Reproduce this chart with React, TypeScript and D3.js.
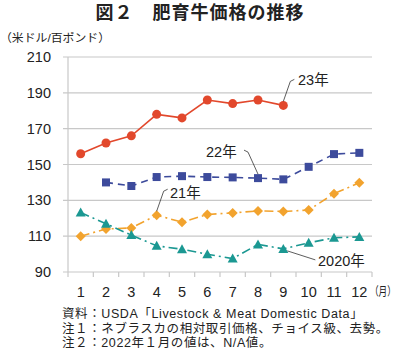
import React from 'react';
import * as d3 from 'd3';

const months = ['1', '2', '3', '4', '5', '6', '7', '8', '9', '10', '11', '12'];
const yTicks = [90, 110, 130, 150, 170, 190, 210];

const y2023 = [156, 162, 166, 178, 176, 186, 184, 186, 183];
const y2022 = [null, 140, 138, 143, 143.5, 143, 142.8, 142.4, 141.7, 148.7, 155.8, 156.5];
const y2021 = [110, 114, 114.6, 121.7, 117.8, 122.1, 123, 124.1, 123.8, 124.6, 133.7, 139.8];
const y2020 = [123.2, 116.9, 110.6, 104.6, 102.7, 99.9, 97.5, 105.4, 102.9, 106.3, 109.1, 109.6];

const notes = [
  '資料：USDA「Livestock & Meat Domestic Data」',
  '注１：ネブラスカの相対取引価格、チョイス級、去勢。',
  '注２：2022年１月の値は、N/A値。',
];

const FONT = '"Liberation Sans", "Noto Sans CJK JP", sans-serif';

export default function App() {
  const left = 68, right = 372, top = 57, bottom = 272;
  const x = d3.scaleBand().domain(months).range([left, right]);
  const y = d3.scaleLinear().domain([90, 210]).range([bottom, top]);
  const cx = (i: number) => (x(months[i]) as number) + x.bandwidth() / 2;

  const line = d3.line<number | null>()
    .defined((d) => d != null)
    .x((_, i) => cx(i))
    .y((d) => y(d as number));

  const series = [
    { data: y2023, color: '#e2482c', dash: '', shape: 'circle' },
    { data: y2022, color: '#3d4b9c', dash: '7,5', shape: 'square' },
    { data: y2021, color: '#f2a32e', dash: '9,4,2,4', shape: 'diamond' },
    { data: y2020, color: '#1b9892', dash: '9,4,2,4', shape: 'triangle' },
  ];

  const marker = (shape: string, px: number, py: number, color: string, key: number) => {
    if (shape === 'circle') return <circle key={key} cx={px} cy={py} r={4.5} fill={color} />;
    if (shape === 'square') return <rect key={key} x={px - 4} y={py - 4} width={8} height={8} fill={color} />;
    if (shape === 'diamond')
      return <path key={key} d={`M${px},${py - 5}L${px + 5},${py}L${px},${py + 5}L${px - 5},${py}Z`} fill={color} />;
    return <path key={key} d={`M${px},${py - 5}L${px + 5},${py + 4}L${px - 5},${py + 4}Z`} fill={color} />;
  };

  return (
    <svg width={400} height={361} style={{ position: 'absolute', left: 0, top: 0, background: '#fff' }} fontFamily={FONT}>
      <text x={200} y={19} textAnchor="middle" fontSize={18} fontWeight="bold" letterSpacing={1} fill="#222">図２　肥育牛価格の推移</text>
      <text x={0} y={42} fontSize={11.5} textLength={110} lengthAdjust="spacingAndGlyphs" fill="#222">（米ドル/百ポンド）</text>

      {yTicks.map((t) => (
        <g key={t}>
          <line x1={left - 5} x2={right} y1={y(t)} y2={y(t)} stroke="#c8c8c8" strokeWidth={1.2} />
          <text x={51} y={y(t) + 5} textAnchor="end" fontSize={14.5} fill="#222">{t}</text>
        </g>
      ))}
      <line x1={left} x2={left} y1={top} y2={bottom} stroke="#c8c8c8" strokeWidth={1.2} />
      {months.map((m) => (
        <line key={'t' + m} x1={x(m)} x2={x(m)} y1={bottom} y2={bottom + 5} stroke="#c8c8c8" strokeWidth={1.2} />
      ))}
      <line x1={right} x2={right} y1={bottom} y2={bottom + 5} stroke="#c8c8c8" strokeWidth={1.2} />
      {months.map((m, i) => (
        <text key={'l' + m} x={cx(i)} y={297} textAnchor="middle" fontSize={14.5} fill="#222">{m}</text>
      ))}
      <g transform="translate(370,296) scale(0.72,1)">
        <text x={0} y={0} fontSize={12} fill="#222">（月）</text>
      </g>

      {series.map((s, si) => (
        <g key={si}>
          <path d={line(s.data) || ''} fill="none" stroke={s.color} strokeWidth={1.6} strokeDasharray={s.dash} />
          {s.data.map((v, i) => (v == null ? null : marker(s.shape, cx(i), y(v), s.color, i)))}
        </g>
      ))}

      <g stroke="#333" strokeWidth={0.8} fill="none">
        <path d={`M${cx(8)},${y(183) - 4}L${cx(8) + 7},${y(183) - 24}L${cx(8) + 11},${y(183) - 26}`} />
        <path d={`M${cx(7)},${y(142.4) - 4}L${cx(7) - 10},${y(142.4) - 26}L${cx(7) - 14},${y(142.4) - 28}`} />
        <path d={`M${cx(3)},${y(121.7) - 4}L${cx(3) + 7},${y(121.7) - 24}L${cx(3) + 11},${y(121.7) - 26}`} />
        <path d={`M${cx(8) + 4},${y(102.9) + 2}L${cx(8) + 32},${y(102.9) + 11}`} />
      </g>
      <text x={298} y={85} fontSize={14.5} fill="#222">23年</text>
      <text x={206} y={157} fontSize={14.5} fill="#222">22年</text>
      <text x={170} y={198} fontSize={14.5} fill="#222">21年</text>
      <text x={318} y={266} fontSize={14.5} fill="#222">2020年</text>

      {notes.map((n, i) => (
        <text key={i} x={62} y={318 + i * 14.5} fontSize={12.5} letterSpacing={0.6} fill="#222">{n}</text>
      ))}
    </svg>
  );
}
